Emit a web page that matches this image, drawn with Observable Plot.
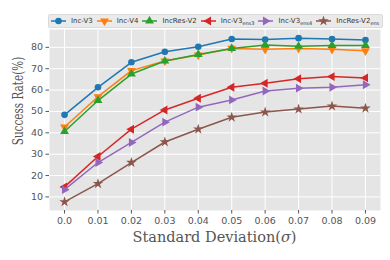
<!DOCTYPE html>
<html><head><meta charset="utf-8">
<script src="https://cdn.jsdelivr.net/npm/d3@7"></script>
<script src="https://cdn.jsdelivr.net/npm/@observablehq/plot@0.6"></script>
<style>
body{margin:0;background:#fff;}
#wrap{position:relative;width:390px;height:260px;}
#legendRow{position:relative;height:28px;width:390px;}
#legend{position:absolute;left:48px;top:14px;width:331px;height:12px;background:#EAEAEA;border:1px solid #DADADA;border-radius:2px;display:flex;align-items:center;padding-left:2px;box-sizing:content-box;font-family:"DejaVu Sans";font-size:7px;color:#333;white-space:nowrap;}
.item{display:flex;align-items:center;margin-right:4px;}
.item svg{margin-right:5px;}
.sub{font-size:5px;position:relative;top:2px;}
</style></head><body><div id="wrap"><div id="legendRow"><div id="legend"></div></div><div id="chart"></div></div>
<script>
const sigma = [0, 0.01, 0.02, 0.03, 0.04, 0.05, 0.06, 0.07, 0.08, 0.09];
const xTickLabels = ["0.0","0.01","0.02","0.03","0.04","0.05","0.06","0.07","0.08","0.09"];
const yTicks = [10, 20, 30, 40, 50, 60, 70, 80];
const seriesNames = ["Inc-V3","Inc-V4","IncRes-V2","Inc-V3","Inc-V3","IncRes-V2"];
const seriesSubs = ["","","","ens3","ens4","ens"];
const incV3 = [48.4, 61.3, 73.0, 77.9, 80.3, 83.9, 83.7, 84.3, 83.9, 83.4];
const incV4 = [42.7, 56.9, 69.1, 73.6, 76.4, 79.5, 79.1, 79.5, 79.1, 78.4];
const incResV2 = [40.6, 55.1, 67.5, 73.6, 76.7, 79.5, 81.1, 80.5, 80.9, 80.9];
const incV3ens3 = [14.7, 28.9, 41.7, 50.7, 56.2, 61.3, 63.2, 65.3, 66.3, 65.7];
const incV3ens4 = [13.4, 26.1, 35.5, 45.0, 52.0, 55.4, 59.6, 60.9, 61.3, 62.5];
const incResV2ens = [7.7, 16.2, 26.1, 35.7, 41.7, 47.3, 49.7, 51.1, 52.5, 51.5];
const colors = ["#1f77b4","#ff7f0e","#2ca02c","#d62728","#9467bd","#8c564b"];
const symbols = ["circle","triangle","triangle","triangle","triangle","star"];
const rotations = [0, 180, 0, -90, 90, 0];
const values = [incV3, incV4, incResV2, incV3ens3, incV3ens4, incResV2ens];

const R = 3.3;
const marks = [
  Plot.frame({fill:"#E5E5E5", stroke:null}),
  Plot.gridX(sigma, {stroke:"white", strokeOpacity:1, strokeWidth:1}),
  Plot.gridY(yTicks, {stroke:"white", strokeOpacity:1, strokeWidth:1})
];
values.forEach((vals, k) => {
  const d = sigma.map((x, i) => ({x, y: vals[i]}));
  marks.push(Plot.line(d, {x:"x", y:"y", stroke:colors[k], strokeWidth:1.5}));
  marks.push(Plot.dot(d, {x:"x", y:"y", fill:colors[k], symbol:symbols[k], rotate:rotations[k], r:R}));
});
marks.push(Plot.axisX(sigma, {tickSize:3.5, tickPadding:3, stroke:"#555", fill:"#555", fontSize:9.5, label:null,
  tickFormat: d => xTickLabels[sigma.indexOf(d)]}));
marks.push(Plot.axisY(yTicks, {tickSize:3.5, tickPadding:3, stroke:"#555", fill:"#555", fontSize:9.5, label:null}));

const chart = Plot.plot({
  width:390, height:232,
  marginLeft:49, marginRight:10, marginTop:1, marginBottom:50,
  style:{background:"transparent", fontFamily:"DejaVu Sans", fontSize:"9.5px", color:"#555"},
  x:{domain:[-0.0045, 0.0945]},
  y:{domain:[3.65, 88.35]},
  marks
});
document.getElementById("chart").appendChild(chart);

const svg = d3.select(chart);
const xl = svg.append("text").attr("x", 214.5).attr("y", 214)
  .attr("text-anchor","middle").attr("fill","#555")
  .style("font-family","DejaVu Serif").style("font-size","14.5px");
xl.append("tspan").text("Standard Deviation(");
xl.append("tspan").style("font-style","italic").text("σ");
xl.append("tspan").text(")");
svg.append("text").attr("transform","translate(23,73) rotate(-90) scale(0.72,1)")
  .attr("text-anchor","middle").attr("fill","#555")
  .style("font-family","DejaVu Serif").style("font-size","14.5px")
  .text("Success Rate(%)");

// legend
const leg = d3.select("#legend");
seriesNames.forEach((name, k) => {
  const it = leg.append("div").attr("class","item");
  const s = it.append("svg").attr("width",15).attr("height",10);
  s.append("line").attr("x1",0).attr("x2",15).attr("y1",5).attr("y2",5).attr("stroke",colors[k]).attr("stroke-width",1.5);
  const symType = symbols[k]==="circle" ? d3.symbolCircle : symbols[k]==="star" ? d3.symbolStar : d3.symbolTriangle;
  s.append("path").attr("d", d3.symbol(symType, Math.PI*R*R)()).attr("fill",colors[k])
    .attr("transform",`translate(7.5,5) rotate(${rotations[k]})`);
  const t = it.append("span").text(name);
  if (seriesSubs[k]) t.append("span").attr("class","sub").text(seriesSubs[k]);
});
</script></body></html>
